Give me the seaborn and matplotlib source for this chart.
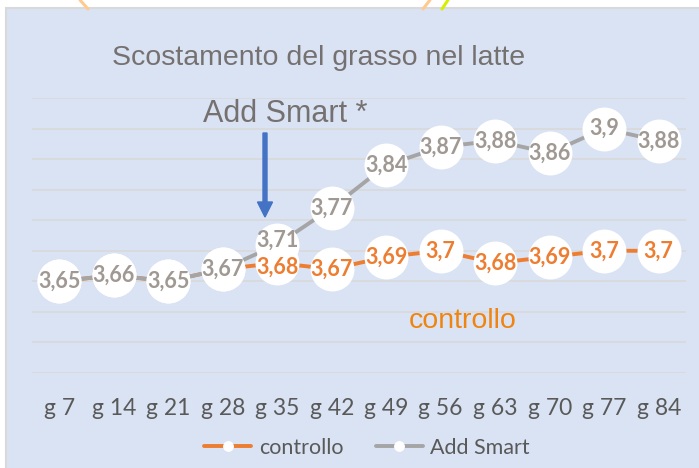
import pandas as pd
import matplotlib
matplotlib.use("Agg")
import matplotlib.pyplot as plt
from matplotlib.lines import Line2D
from matplotlib.patches import Rectangle, FancyArrow
import seaborn as sns

# data
giorni = ["g 7", "g 14", "g 21", "g 28", "g 35", "g 42",
          "g 49", "g 56", "g 63", "g 70", "g 77", "g 84"]
controllo = [3.65, 3.66, 3.65, 3.67, 3.68, 3.67, 3.69, 3.70, 3.68, 3.69, 3.70, 3.70]
add_smart = [3.65, 3.66, 3.65, 3.67, 3.71, 3.77, 3.84, 3.87, 3.88, 3.86, 3.90, 3.88]

ORANGE = "#ED7D31"
GRAY = "#A5A5A5"
GRAY_LABEL = "#A09993"
BG = "#DAE3F3"


def fmt(v):
    """Italian style number: comma as decimal sign, no trailing zero."""
    return f"{v:g}".replace(".", ",")


def main():
    sns.set_style("white")
    plt.rcParams["font.family"] = ["Lato", "DejaVu Sans"]

    df = pd.DataFrame({
        "giorno": giorni * 2,
        "valore": controllo + add_smart,
        "serie": ["controllo"] * len(giorni) + ["Add Smart"] * len(giorni),
    })

    fig = plt.figure(figsize=(6.99, 4.68), dpi=100)
    W, H = 699, 468

    # chart area background with thin border
    fig.add_artist(Rectangle((6 / W, -0.1), 1.0, 1 - 8 / H + 0.1,
                             transform=fig.transFigure, facecolor=BG,
                             edgecolor="#D9D9D9", lw=1.5, zorder=-10))
    # bits of shapes peeking in above the chart
    for (x0, y0, x1, y1, c) in [(80, 0, 88, 9, "#FFCA90"),
                                (430, 0, 423, 9, "#FFCA90"),
                                (448, 0, 442, 9, "#D6EE00")]:
        fig.add_artist(Line2D([x0 / W, x1 / W], [1 - y0 / H, 1 - y1 / H],
                              color=c, lw=2.2, transform=fig.transFigure,
                              zorder=-5))

    ax = fig.add_axes([32 / W, 1 - 373 / H, 654 / W, 275 / H])
    ax.set_facecolor("none")

    sns.lineplot(data=df, x="giorno", y="valore", hue="serie",
                 hue_order=["controllo", "Add Smart"],
                 palette={"controllo": ORANGE, "Add Smart": GRAY},
                 marker="o", markersize=7, markerfacecolor="white",
                 markeredgecolor="white", lw=2.8, sort=False, ax=ax, zorder=3)

    handles, labels = ax.get_legend_handles_labels()
    ax.get_legend().remove()

    xs = list(range(len(giorni)))
    # white round callouts for the data labels
    ax.scatter(xs, add_smart, s=1000, color="white", zorder=4, linewidths=0)
    ax.scatter(xs, controllo, s=1000, color="white", zorder=4, linewidths=0)
    for i, (c, a) in enumerate(zip(controllo, add_smart)):
        # labels that sit close together get pushed apart a little
        shift = 3 if 0 < a - c < 0.05 else 0
        if c != a:
            ax.annotate(fmt(c), (i, c), xytext=(0, -shift), textcoords="offset points",
                        ha="center", va="center", color=ORANGE,
                        fontsize=15.5, fontweight="bold", zorder=5)
        ax.annotate(fmt(a), (i, a), xytext=(0, shift), textcoords="offset points",
                    ha="center", va="center", color=GRAY_LABEL,
                    fontsize=15.5, fontweight="bold", zorder=5)

    ax.set_xlim(-0.5, len(giorni) - 0.5)
    ax.set_ylim(3.5, 3.95)
    ax.set_yticks([3.5 + 0.05 * k for k in range(10)])
    ax.set_yticklabels([])
    ax.grid(axis="y", color="#D9D9D9", lw=1.2)
    ax.grid(axis="x", visible=False)
    ax.tick_params(axis="both", length=0)
    ax.tick_params(axis="x", pad=18, labelsize=16.5, labelcolor="#595959")
    ax.set_xlabel("")
    ax.set_ylabel("")
    for s in ax.spines.values():
        s.set_visible(False)

    # titles and annotations
    fig.text(319 / W, 1 - 58 / H, "Scostamento del grasso nel latte",
             ha="center", va="center", fontsize=20.5, color="#767171",
             family="Liberation Sans")
    fig.text(285 / W, 1 - 114 / H, "Add Smart *", ha="center", va="center",
             fontsize=22, color="#767171", family="Liberation Sans")
    fig.text(463 / W, 1 - 321 / H, "controllo", ha="center", va="center",
             fontsize=20.5, color="#F08410", family="Liberation Sans")
    fig.add_artist(FancyArrow(
        265 / W, 1 - 133 / H, 0, -(84 / H), width=4 / W, head_width=15 / W,
        head_length=15 / H, length_includes_head=True, color="#4472C4",
        transform=fig.transFigure))

    fig.legend(handles, labels, loc="center", bbox_to_anchor=(367 / W, 1 - 448 / H),
               ncol=2, frameon=False, fontsize=15.5, labelcolor="#595959",
               handlelength=2.2, handletextpad=0.35, columnspacing=1.5)

    fig.savefig("out.png", dpi=100)


if __name__ == "__main__":
    main()
